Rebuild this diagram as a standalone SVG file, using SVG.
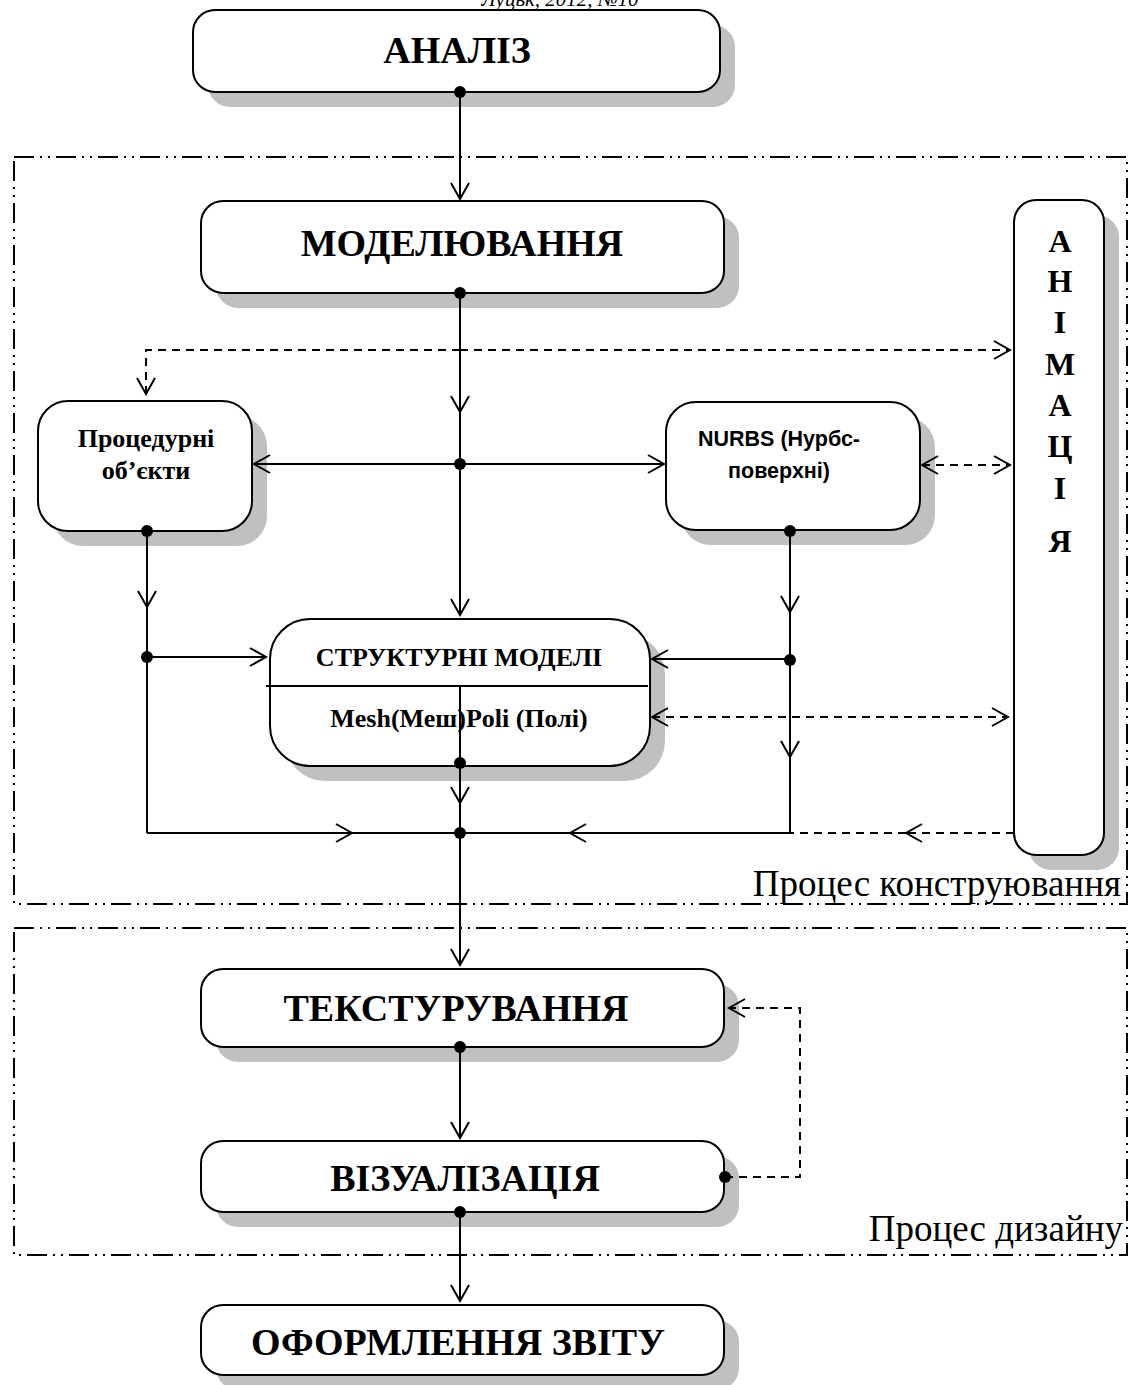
<svg xmlns="http://www.w3.org/2000/svg" width="1130" height="1385" viewBox="0 0 1130 1385">
<style>
.box{fill:#fff;stroke:#000;stroke-width:2}
.sh{fill:#c0c0c0}
.t{font-family:"Liberation Serif","Times New Roman",serif;font-weight:bold;text-anchor:middle;fill:#000}
.big{font-size:38px}
.mid{font-size:26px}
.sans{font-family:"Liberation Sans",Arial,sans-serif;font-weight:bold;font-size:21.5px;text-anchor:middle}
.lbl{font-family:"Liberation Serif","Times New Roman",serif;font-size:37px;text-anchor:end}
.ln{fill:none;stroke:#000;stroke-width:2}
.dl{fill:none;stroke:#000;stroke-width:2;stroke-dasharray:8 6}
.reg{fill:none;stroke:#000;stroke-width:2;stroke-dasharray:20 6 2 6 2 6}
.dot{fill:#000}
</style>
<defs>
<marker id="a" viewBox="0 0 20 20" refX="18" refY="10" markerWidth="20" markerHeight="20" markerUnits="userSpaceOnUse" orient="auto">
<path d="M2,1 L18,10 L2,19" fill="none" stroke="#000" stroke-width="2"/>
</marker>
<marker id="as" viewBox="0 0 20 20" refX="2" refY="10" markerWidth="20" markerHeight="20" markerUnits="userSpaceOnUse" orient="auto">
<path d="M18,1 L2,10 L18,19" fill="none" stroke="#000" stroke-width="2"/>
</marker>
</defs>
<rect width="1130" height="1385" fill="#fff"/>
<text x="560" y="6" font-family="Liberation Serif,serif" font-style="italic" font-size="21" text-anchor="middle">Луцьк, 2012, №10</text>

<g id="regions">
<rect class="reg" x="14" y="157" width="1113" height="747"/>
<rect class="reg" x="14" y="928" width="1113" height="327"/>
<text class="lbl" x="1121" y="896">Процес конструювання</text>
<text class="lbl" x="1123" y="1241">Процес дизайну</text>
</g>

<g id="analiz">
<rect class="sh" x="208" y="25" width="527" height="82" rx="22"/>
<rect class="box" x="193" y="10" width="527" height="82" rx="22"/>
<text class="t big" x="457" y="63">АНАЛІЗ</text>
</g>

<g id="modeluvannya">
<rect class="sh" x="216" y="216" width="523" height="92" rx="22"/>
<rect class="box" x="201" y="201" width="523" height="92" rx="22"/>
<text class="t big" x="462" y="256">МОДЕЛЮВАННЯ</text>
</g>

<g id="animatsiya">
<rect class="sh" x="1029" y="215" width="90" height="655" rx="22"/>
<rect class="box" x="1014" y="200" width="90" height="655" rx="22"/>
<g class="t" font-size="32">
<text x="1060" y="252">А</text>
<text x="1060" y="292">Н</text>
<text x="1060" y="333">І</text>
<text x="1060" y="375">М</text>
<text x="1060" y="416">А</text>
<text x="1060" y="457">Ц</text>
<text x="1060" y="499">І</text>
<text x="1060" y="552">Я</text>
</g>
</g>

<g id="protseduri">
<rect class="sh" x="53" y="416" width="214" height="130" rx="30"/>
<rect class="box" x="38" y="401" width="214" height="130" rx="30"/>
<text class="t mid" x="146" y="447">Процедурні</text>
<text class="t mid" x="146" y="479">об’єкти</text>
</g>

<g id="nurbs">
<rect class="sh" x="681" y="417" width="254" height="128" rx="30"/>
<rect class="box" x="666" y="402" width="254" height="128" rx="30"/>
<text class="sans" x="779" y="446">NURBS (Нурбс-</text>
<text class="sans" x="779" y="478">поверхні)</text>
</g>

<g id="strukturni">
<rect class="sh" x="285" y="634" width="380" height="147" rx="40"/>
<rect class="box" x="270" y="619" width="380" height="147" rx="40"/>
<line class="ln" x1="266" y1="686" x2="648" y2="686"/>
<text class="t mid" x="459" y="666">СТРУКТУРНІ МОДЕЛІ</text>
<text class="t mid" x="459" y="727">Mesh(Меш)Poli (Полі)</text>
</g>

<g id="teksturuvannya">
<rect class="sh" x="216" y="984" width="523" height="78" rx="22"/>
<rect class="box" x="201" y="969" width="523" height="78" rx="22"/>
<text class="t big" x="456" y="1021">ТЕКСТУРУВАННЯ</text>
</g>

<g id="vizualizatsiya">
<rect class="sh" x="216" y="1156" width="523" height="71" rx="22"/>
<rect class="box" x="201" y="1141" width="523" height="71" rx="22"/>
<text class="t big" x="465" y="1191">ВІЗУАЛІЗАЦІЯ</text>
</g>

<g id="zvit">
<rect class="sh" x="216" y="1320" width="523" height="70" rx="22"/>
<rect class="box" x="201" y="1305" width="523" height="70" rx="22"/>
<text class="t big" x="458" y="1355">ОФОРМЛЕННЯ ЗВІТУ</text>
</g>

<g id="connectors">
<line class="ln" x1="460" y1="92" x2="460" y2="199" marker-end="url(#a)"/>
<line class="ln" x1="460" y1="293" x2="460" y2="412" marker-end="url(#a)"/>
<line class="ln" x1="460" y1="412" x2="460" y2="615" marker-end="url(#a)"/>
<line class="ln" x1="460" y1="464" x2="254" y2="464" marker-end="url(#a)"/>
<line class="ln" x1="460" y1="464" x2="664" y2="464" marker-end="url(#a)"/>
<path class="dl" d="M460,350 H146 V394" marker-end="url(#a)"/>
<line class="dl" x1="460" y1="350" x2="1010" y2="350" marker-end="url(#a)"/>
<line class="dl" x1="922" y1="465" x2="1010" y2="465" marker-start="url(#as)" marker-end="url(#a)"/>
<line class="dl" x1="652" y1="717" x2="1008" y2="717" marker-start="url(#as)" marker-end="url(#a)"/>
<line class="ln" x1="147" y1="531" x2="147" y2="607" marker-end="url(#a)"/>
<line class="ln" x1="147" y1="607" x2="147" y2="833"/>
<line class="ln" x1="147" y1="657" x2="266" y2="657" marker-end="url(#a)"/>
<line class="ln" x1="790" y1="531" x2="790" y2="612" marker-end="url(#a)"/>
<line class="ln" x1="790" y1="612" x2="790" y2="757" marker-end="url(#a)"/>
<line class="ln" x1="790" y1="757" x2="790" y2="833"/>
<line class="ln" x1="790" y1="659" x2="652" y2="659" marker-end="url(#a)"/>
<line class="ln" x1="147" y1="833" x2="352" y2="833" marker-end="url(#a)"/>
<line class="ln" x1="352" y1="833" x2="460" y2="833"/>
<line class="ln" x1="790" y1="833" x2="570" y2="833" marker-end="url(#a)"/>
<line class="ln" x1="570" y1="833" x2="460" y2="833"/>
<line class="dl" x1="1014" y1="833" x2="906" y2="833" marker-end="url(#a)"/>
<line class="dl" x1="906" y1="833" x2="790" y2="833"/>
<line class="ln" x1="460" y1="686" x2="460" y2="803" marker-end="url(#a)"/>
<line class="ln" x1="460" y1="803" x2="460" y2="965" marker-end="url(#a)"/>
<line class="ln" x1="460" y1="1047" x2="460" y2="1138" marker-end="url(#a)"/>
<path class="dl" d="M725,1177 H800 V1008 H729" marker-end="url(#a)"/>
<line class="ln" x1="460" y1="1212" x2="460" y2="1301" marker-end="url(#a)"/>
<circle class="dot" cx="460" cy="92" r="6"/>
<circle class="dot" cx="460" cy="293" r="6"/>
<circle class="dot" cx="460" cy="464" r="6"/>
<circle class="dot" cx="147" cy="531" r="6"/>
<circle class="dot" cx="790" cy="531" r="6"/>
<circle class="dot" cx="147" cy="657" r="6"/>
<circle class="dot" cx="790" cy="660" r="6"/>
<circle class="dot" cx="460" cy="763" r="6"/>
<circle class="dot" cx="460" cy="833" r="6"/>
<circle class="dot" cx="460" cy="1047" r="6"/>
<circle class="dot" cx="725" cy="1177" r="6"/>
<circle class="dot" cx="460" cy="1212" r="6"/>
</g>
</svg>
